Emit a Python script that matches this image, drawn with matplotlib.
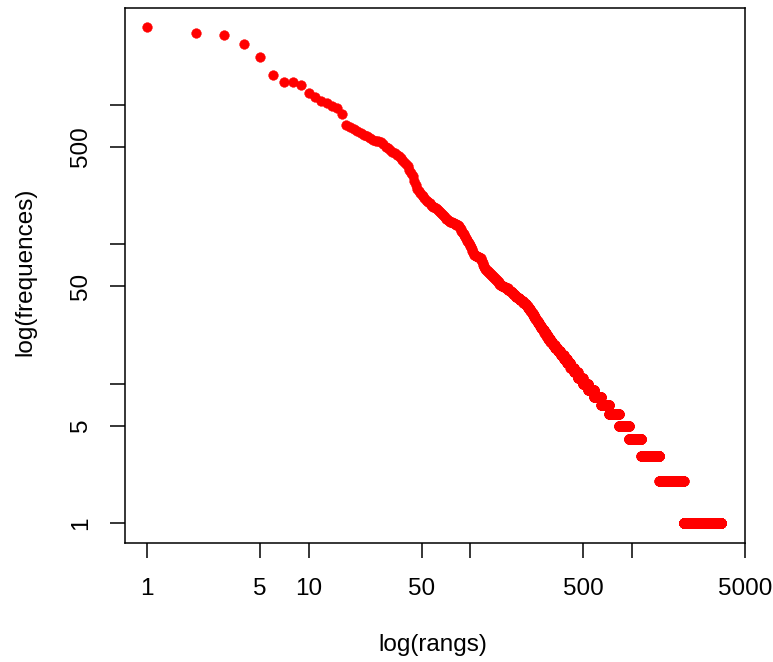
import numpy as np
import matplotlib
matplotlib.use("Agg")
import matplotlib.pyplot as plt

plt.rcParams['font.family'] = ['Liberation Sans', 'DejaVu Sans']

# Frequencies of the most frequent words (ranks 1..100)
top_freqs = [3600, 3270, 3170, 2700, 2190, 1640, 1450, 1440, 1380, 1210,
             1130, 1065, 1020, 975, 945, 850, 715, 690, 665, 645,
             625, 605, 590, 572, 560, 552, 545, 538, 520, 500,
             485, 470, 458, 448, 436, 425, 412, 398, 385, 372,
             360, 340, 322, 305, 285, 265, 250, 238, 232, 226,
             220, 214, 208, 204, 200, 196, 192, 188, 185, 183,
             181, 179, 176, 173, 170, 167, 164, 161, 158, 155,
             152, 150, 148, 146, 145, 144, 143, 142, 141, 140,
             139, 138, 137, 136, 134, 131, 128, 125, 122, 120,
             118, 116, 113, 110, 107, 105, 103, 101, 99, 97]

# Frequency spectrum for the remaining words: frequency value -> number of words
spec_freqs = [95, 92, 89, 87, 85, 84, 83, 82, 81, 80, 79, 77, 75, 73, 71, 70,
              68, 67, 66, 65, 64, 63, 62, 61, 60, 59, 58, 57, 56, 55, 54, 53,
              52, 51, 50, 49, 48, 47, 46, 45, 44, 43, 42, 41, 40, 39, 38, 37,
              36, 35, 34, 33, 32, 31, 30, 29, 28, 27, 26, 25, 24, 23, 22, 21,
              20, 19, 18, 17, 16, 15, 14, 13, 12, 11, 10, 9, 8, 7, 6, 5, 4, 3,
              2, 1]
spec_counts = [1, 1, 1, 1, 1, 1, 1, 3, 3, 2, 1, 1, 1, 1, 1, 1,
               1, 1, 1, 2, 2, 2, 2, 2, 2, 2, 2, 2, 2, 2, 2, 2,
               2, 3, 5, 5, 5, 4, 4, 4, 4, 4, 5, 6, 6, 5, 5, 5,
               4, 4, 4, 4, 5, 4, 4, 5, 5, 6, 6, 6, 7, 8, 8, 10,
               10, 11, 13, 15, 17, 18, 19, 22, 25, 34, 39, 47, 62, 77, 109, 127, 184, 336,
               607, 1476]

x_ticks = [1, 5, 10, 50, 100, 500, 1000, 5000]
x_ticklabels = ['1', '5', '10', '50', '', '500', '', '5000']
y_ticks = [1, 5, 10, 50, 100, 500, 1000]
y_ticklabels = ['1', '5', '', '50', '', '500', '']

freqs = np.concatenate([np.array(top_freqs, dtype=float),
                        np.repeat(np.array(spec_freqs, dtype=float), spec_counts)])
ranks = np.arange(1, len(freqs) + 1)

W, H = 773, 662
fig = plt.figure(figsize=(W / 100, H / 100), dpi=100)
ax = fig.add_axes([125 / W, 1 - 543 / H, 620 / W, 535 / H])

ax.plot(ranks, freqs, linestyle='none', marker='o', markersize=7.0,
        markerfacecolor='red', markeredgecolor='red', markeredgewidth=0.3)

ax.set_xscale('log')
ax.set_yscale('log')
ax.set_xlim(0.731, 4990)
ax.set_ylim(0.719, 4920)

ax.set_xticks(x_ticks)
ax.set_xticklabels(x_ticklabels)
ax.set_yticks(y_ticks)
ax.set_yticklabels(y_ticklabels)
ax.minorticks_off()

fs = 17.5
ax.tick_params(axis='both', direction='out', length=11, width=1.1,
               labelsize=fs, color='black')
ax.tick_params(axis='x', pad=14)
ax.tick_params(axis='y', pad=13)
for lab in ax.get_yticklabels():
    lab.set_rotation(90)
    lab.set_va('center')
    lab.set_ha('right')

for sp in ax.spines.values():
    sp.set_linewidth(1.1)
    sp.set_color('black')

fig.text(433 / W, 1 - 645 / H, 'log(rangs)', ha='center', va='center', fontsize=fs)
fig.text(25 / W, 1 - 272 / H, 'log(frequences)', ha='center', va='center',
         rotation=90, fontsize=fs)

fig.savefig('out.png', dpi=100, facecolor='white')
